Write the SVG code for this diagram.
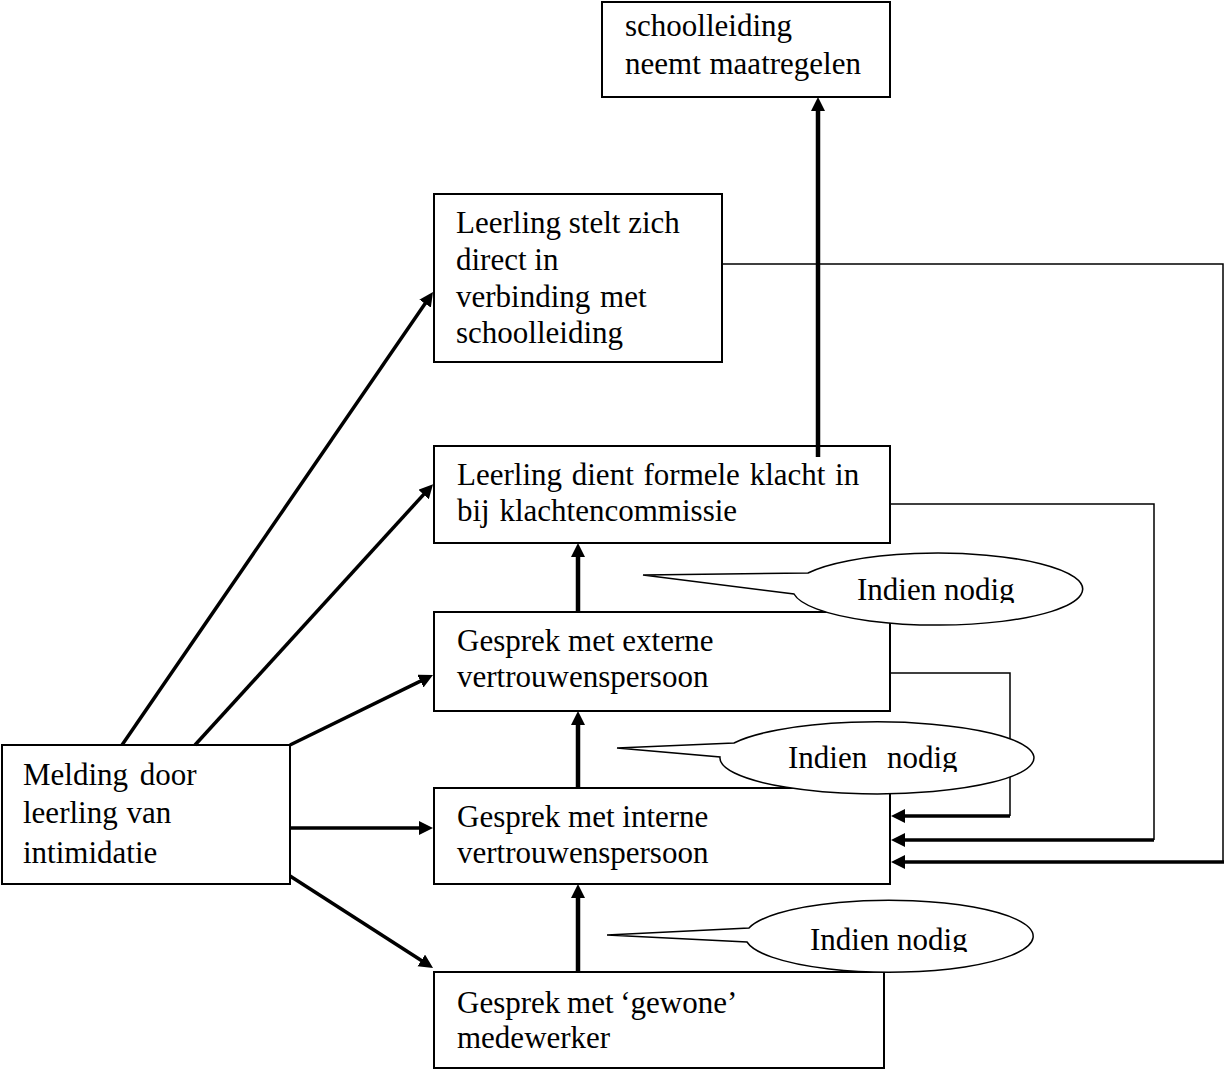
<svg xmlns="http://www.w3.org/2000/svg" width="1226" height="1071" viewBox="0 0 1226 1071">
<style>
.box{fill:#fff;stroke:#000;stroke-width:2}
.t{font-family:"Liberation Serif","Times New Roman",serif;font-size:31px;fill:#000}
.thin{fill:none;stroke:#000;stroke-width:1.5}
.thick{fill:none;stroke:#000;stroke-width:3.5}
.vthick{fill:none;stroke:#000;stroke-width:4.5}
.call{fill:#fff;stroke:#000;stroke-width:1.5}
</style>
<defs>
<marker id="ah" markerUnits="userSpaceOnUse" markerWidth="16" markerHeight="16" refX="8" refY="7" orient="auto"><path d="M0,0 L14,7 L0,14 z" fill="#000"/></marker>
<clipPath id="c1"><rect x="780" y="540" width="320" height="63"/></clipPath>
<clipPath id="c2"><rect x="700" y="710" width="350" height="62"/></clipPath>
<clipPath id="c3"><rect x="730" y="890" width="320" height="62"/></clipPath>
</defs>
<rect width="1226" height="1071" fill="#fff"/>

<g id="n-maatregelen"><rect class="box" x="602" y="2" width="288" height="95"/>
<text class="t" x="625" y="36">schoolleiding</text><text class="t" x="625" y="74" word-spacing="1">neemt maatregelen</text></g>

<g id="n-direct"><rect class="box" x="434" y="194" width="288" height="168"/>
<text class="t" x="456" y="233">Leerling stelt zich</text>
<text class="t" x="456" y="270">direct in</text>
<text class="t" x="456" y="307" word-spacing="2">verbinding met</text>
<text class="t" x="456" y="343">schoolleiding</text></g>

<g id="n-klacht"><rect class="box" x="434" y="446" width="456" height="97"/>
<text class="t" x="457" y="485" word-spacing="2">Leerling dient formele klacht in</text>
<text class="t" x="457" y="521" word-spacing="2">bij klachtencommissie</text></g>

<g id="n-extern"><rect class="box" x="434" y="612" width="456" height="99"/>
<text class="t" x="457" y="651">Gesprek met externe</text>
<text class="t" x="457" y="687">vertrouwenspersoon</text></g>

<g id="n-intern"><rect class="box" x="434" y="788" width="456" height="96"/>
<text class="t" x="457" y="827">Gesprek met interne</text>
<text class="t" x="457" y="863">vertrouwenspersoon</text></g>

<g id="n-gewoon"><rect class="box" x="434" y="972" width="450" height="96"/>
<text class="t" x="457" y="1013" word-spacing="-1">Gesprek met ‘gewone’</text>
<text class="t" x="457" y="1048">medewerker</text></g>

<g id="n-melding"><rect class="box" x="2" y="745" width="288" height="139"/>
<text class="t" x="23" y="785" word-spacing="4">Melding door</text>
<text class="t" x="23" y="823" word-spacing="1">leerling van</text>
<text class="t" x="23" y="863">intimidatie</text></g>

<g id="connectors">
<line class="thick" x1="122" y1="745" x2="429.6" y2="297" marker-end="url(#ah)"/>
<line class="thick" x1="195" y1="745" x2="429" y2="488.6" marker-end="url(#ah)"/>
<line class="thick" x1="290" y1="745" x2="427.6" y2="677.6" marker-end="url(#ah)"/>
<line class="thick" x1="290" y1="828" x2="427" y2="828" marker-end="url(#ah)"/>
<line class="thick" x1="290" y1="876" x2="428" y2="964.8" marker-end="url(#ah)"/>
<line class="vthick" x1="578" y1="972" x2="578" y2="890" marker-end="url(#ah)"/>
<line class="vthick" x1="578" y1="788" x2="578" y2="717" marker-end="url(#ah)"/>
<line class="vthick" x1="578" y1="612" x2="578" y2="549" marker-end="url(#ah)"/>
<line class="vthick" x1="818" y1="457" x2="818" y2="103" marker-end="url(#ah)"/>
<polyline class="thin" points="722,264 1223,264 1223,862"/>
<polyline class="thin" points="890,504 1154,504 1154,840"/>
<polyline class="thin" points="890,673 1010,673 1010,816"/>
<line class="thick" x1="1010" y1="816" x2="897" y2="816" marker-end="url(#ah)"/>
<line class="thick" x1="1154" y1="840" x2="897" y2="840" marker-end="url(#ah)"/>
<line class="thick" x1="1224" y1="862" x2="897" y2="862" marker-end="url(#ah)"/>
</g>

<g id="callout1"><path class="call" d="M643,575 L808,573 A145,36 0 1 1 794,594 Z"/>
<text class="t" x="857" y="600" clip-path="url(#c1)">Indien nodig</text></g>
<g id="callout2"><path class="call" d="M617,748 L734,743 A157,36 0 1 1 720,757 Z"/>
<text class="t" x="788" y="768" clip-path="url(#c2)" word-spacing="12">Indien nodig</text></g>
<g id="callout3"><path class="call" d="M607,935 L749,928 A144,36 0 1 1 747,942 Z"/>
<text class="t" x="810" y="950" clip-path="url(#c3)">Indien nodig</text></g>
</svg>
